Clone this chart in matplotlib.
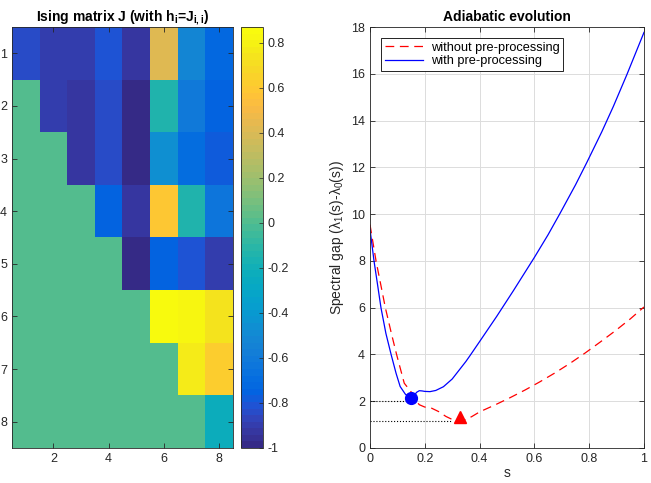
import numpy as np
import matplotlib
matplotlib.use("Agg")
import matplotlib.pyplot as plt
from matplotlib.colors import LinearSegmentedColormap
from matplotlib.ticker import FormatStrFormatter

plt.rcParams["font.family"] = ["Liberation Sans", "DejaVu Sans"]
plt.rcParams["mathtext.fontset"] = "custom"
plt.rcParams["mathtext.rm"] = "Liberation Sans"
plt.rcParams["mathtext.it"] = "Liberation Sans:italic"
plt.rcParams["mathtext.bf"] = "Liberation Sans:bold"
plt.rcParams["axes.unicode_minus"] = False

# Ising matrix J (upper triangular, diagonal = h_i)
J = np.array([
    [-0.84, -0.90, -0.90, -0.82, -0.94, 0.43, -0.53, -0.73],
    [0.00, -0.90, -0.93, -0.85, -0.98, -0.13, -0.61, -0.76],
    [0.00, 0.00, -0.93, -0.85, -0.98, -0.45, -0.70, -0.78],
    [0.00, 0.00, 0.00, -0.76, -0.94, 0.60, -0.13, -0.63],
    [0.00, 0.00, 0.00, 0.00, -1.00, -0.75, -0.82, -0.89],
    [0.00, 0.00, 0.00, 0.00, 0.00, 0.87, 0.84, 0.75],
    [0.00, 0.00, 0.00, 0.00, 0.00, 0.00, 0.78, 0.63],
    [0.00, 0.00, 0.00, 0.00, 0.00, 0.00, 0.00, -0.23],
])
cbar_ticks = [-1, -0.8, -0.6, -0.4, -0.2, 0, 0.2, 0.4, 0.6, 0.8]

# spectral gap curves
s_pre = [0.0, 0.0146, 0.028, 0.040, 0.058, 0.077, 0.095, 0.11, 0.129, 0.15,
         0.16, 0.17, 0.18, 0.19, 0.2, 0.219, 0.24, 0.268, 0.3, 0.316, 0.35,
         0.365, 0.4, 0.462, 0.523, 0.6, 0.65, 0.693, 0.75, 0.791, 0.846,
         0.888, 0.937, 1.0]
gap_pre = [9.35, 8.0, 6.95, 6.0, 4.9, 4.0, 3.2, 2.63, 2.3, 2.12,
           2.22, 2.38, 2.45, 2.44, 2.42, 2.41, 2.46, 2.62, 2.95, 3.19, 3.7,
           3.95, 4.55, 5.62, 6.72, 8.15, 9.12, 10.02, 11.25, 12.2, 13.52,
           14.6, 15.95, 17.77]

s_raw = [0.0, 0.022, 0.056, 0.078, 0.097, 0.125, 0.15, 0.165, 0.18, 0.2,
         0.22, 0.25, 0.277, 0.3, 0.32, 0.345, 0.371, 0.401, 0.456, 0.511,
         0.566, 0.62, 0.675, 0.73, 0.785, 0.839, 0.894, 0.95, 1.0]
gap_raw = [9.55, 8.0, 6.0, 4.9, 4.0, 2.77, 2.4, 2.05, 1.85, 1.75,
           1.73, 1.56, 1.35, 1.22, 1.16, 1.2, 1.34, 1.55, 1.84, 2.15,
           2.48, 2.83, 3.21, 3.62, 4.06, 4.52, 5.0, 5.52, 6.03]

# minimum-gap markers and guide levels
min_pre = (0.15, 2.12)
min_raw = (0.328, 1.31)
level_pre, level_pre_end = 2.02, 0.135
level_raw, level_raw_end = 1.15, 0.30

# parula-like colormap
parula_pts = [
    (0.2081, 0.1663, 0.5292), (0.2123, 0.2138, 0.6270), (0.1959, 0.2645, 0.7279),
    (0.1253, 0.3242, 0.8303), (0.0117, 0.3875, 0.8820), (0.0165, 0.4266, 0.8786),
    (0.0498, 0.4586, 0.8641), (0.0723, 0.4887, 0.8467), (0.0793, 0.5200, 0.8312),
    (0.0641, 0.5570, 0.8240), (0.0343, 0.5966, 0.8199), (0.0239, 0.6287, 0.8038),
    (0.0228, 0.6535, 0.7768), (0.0384, 0.6743, 0.7436), (0.0843, 0.6928, 0.7062),
    (0.1453, 0.7098, 0.6646), (0.2178, 0.7250, 0.6193), (0.3022, 0.7376, 0.5712),
    (0.3953, 0.7459, 0.5244), (0.4871, 0.7491, 0.4840), (0.5709, 0.7485, 0.4494),
    (0.6473, 0.7456, 0.4188), (0.7184, 0.7411, 0.3905), (0.7858, 0.7356, 0.3633),
    (0.8507, 0.7299, 0.3360), (0.9139, 0.7258, 0.3063), (0.9739, 0.7314, 0.2666),
    (0.9990, 0.7653, 0.2164), (0.9880, 0.8066, 0.1794), (0.9697, 0.8481, 0.1475),
    (0.9589, 0.8949, 0.1132), (0.9661, 0.9514, 0.0755), (0.9763, 0.9831, 0.0538),
]
parula = LinearSegmentedColormap.from_list("parula", parula_pts, N=64)

dark = "#262626"
W, H = 651, 483
fig = plt.figure(figsize=(6.51, 4.83), dpi=100)

ax1 = fig.add_axes([12 / W, 1 - 448 / H, 221 / W, 421 / H])
cax = fig.add_axes([241 / W, 1 - 448 / H, 22 / W, 421 / H])
ax2 = fig.add_axes([370 / W, 1 - 448 / H, 274 / W, 421 / H])

n = J.shape[0]
im = ax1.imshow(J, cmap=parula, vmin=J.min(), vmax=J.max(), aspect="auto",
                extent=(0.5, n + 0.5, n + 0.5, 0.5), interpolation="nearest")
ax1.set_xticks([2, 4, 6, 8])
ax1.set_yticks(range(1, n + 1))
ax1.set_title("Ising matrix J (with h$_\\mathbf{i}$=J$_\\mathbf{i,i}$)",
              fontsize=10, fontweight="bold", pad=4)

cb = fig.colorbar(im, cax=cax)
cb.set_ticks(cbar_ticks)
cb.ax.yaxis.set_major_formatter(FormatStrFormatter("%g"))
cb.ax.tick_params(direction="in", labelsize=9, colors=dark, length=3, width=0.5)
cb.outline.set_linewidth(0.6)
cb.outline.set_edgecolor(dark)

ax2.plot(s_raw, gap_raw, color="red", ls=(0, (7, 4.5)), lw=0.9,
         label="without pre-processing")
ax2.plot(s_pre, gap_pre, color="blue", lw=0.9, label="with pre-processing")
ax2.plot([0, level_pre_end], [level_pre, level_pre], ls=":", color="black", lw=0.8)
ax2.plot([0, level_raw_end], [level_raw, level_raw], ls=":", color="black", lw=0.8)
ax2.plot(*min_pre, marker="o", color="blue", markersize=8.5)
ax2.plot(*min_raw, marker="^", color="red", markersize=9)
ax2.set_xlim(0, 1)
ax2.set_ylim(0, 18)
ax2.set_xticks(np.arange(0, 1.01, 0.2))
ax2.set_yticks(range(0, 19, 2))
ax2.xaxis.set_major_formatter(FormatStrFormatter("%g"))
ax2.grid(True, color="#dcdcdc", lw=0.7)
ax2.set_axisbelow(True)
ax2.set_xlabel("s", fontsize=10, color=dark, labelpad=1)
ax2.set_ylabel("Spectral gap (λ$_1$(s)-λ$_0$(s))", fontsize=10, color=dark, labelpad=4)
ax2.set_title("Adiabatic evolution", fontsize=10, fontweight="bold", pad=4)
leg = ax2.legend(loc="upper left", bbox_to_anchor=(11 / 274, 1 - 11 / 421),
                 borderaxespad=0, fontsize=9.2, fancybox=False, framealpha=1,
                 handlelength=3, handletextpad=0.6, borderpad=0.3, labelspacing=0.1)
leg.get_frame().set_edgecolor("black")
leg.get_frame().set_linewidth(0.6)

for ax in (ax1, ax2):
    ax.tick_params(direction="in", top=True, right=True, labelsize=9,
                   colors=dark, length=3.5, width=0.6)
    for sp in ax.spines.values():
        sp.set_linewidth(0.6)
        sp.set_color(dark)

fig.savefig("out.png", dpi=100)
